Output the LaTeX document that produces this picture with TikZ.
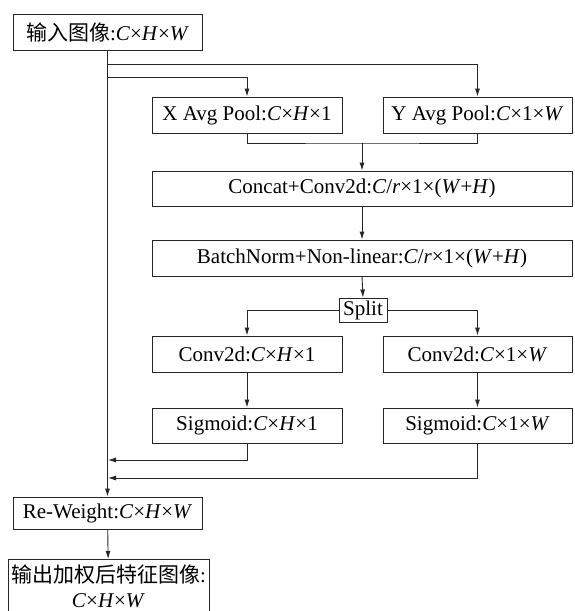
\documentclass[tikz,border=0pt]{standalone}
\usepackage{fontspec}
\setmainfont{Liberation Serif}
\newfontfamily\cjk{Noto Sans CJK SC}
\usetikzlibrary{arrows.meta}
\newcommand{\iv}[1]{\textit{#1}}
\begin{document}
\begin{tikzpicture}[x=1pt,y=-1pt,
  font=\fontsize{21}{26}\selectfont,
  box/.style={draw=black!85, line width=0.9pt, inner sep=0pt, align=center, text=black},
  link/.style={draw=black!85, line width=0.9pt},
  arr/.style={link, -{Latex[length=8pt,width=5pt]}}]
\clip (0,0) rectangle (574,611);
\fill[white] (0,0) rectangle (574,611);

% input and the two pooling branches
\node[box, minimum width=189pt, minimum height=36pt] (inp) at (107.5,32) {{\cjk 输入图像}:\iv{C}×\iv{H}×\iv{W}};
\node[box, minimum width=190pt, minimum height=36pt] (xpool) at (247,115) {X Avg Pool:\iv{C}×\iv{H}×1};
\node[box, minimum width=189pt, minimum height=36pt] (ypool) at (477.5,115) {Y Avg Pool:\iv{C}×1×\iv{W}};

% shared transform
\node[box, minimum width=420pt, minimum height=35pt] (concat) at (362,188.5) {Concat+Conv2d:\iv{C}/\iv{r}×1×(\iv{W}+\iv{H})};
\node[box, minimum width=420pt, minimum height=36pt] (bn) at (362,258) {BatchNorm+Non-linear:\iv{C}/\iv{r}×1×(\iv{W}+\iv{H})};
\node[box, minimum width=48pt, minimum height=24pt] (split) at (363,310) {Split};

% per-direction attention
\node[box, minimum width=190pt, minimum height=36pt] (convl) at (247,354) {Conv2d:\iv{C}×\iv{H}×1};
\node[box, minimum width=189pt, minimum height=36pt] (convr) at (477.5,354) {Conv2d:\iv{C}×1×\iv{W}};
\node[box, minimum width=190pt, minimum height=35pt] (sigl) at (247,425.5) {Sigmoid:\iv{C}×\iv{H}×1};
\node[box, minimum width=189pt, minimum height=35pt] (sigr) at (477.5,425.5) {Sigmoid:\iv{C}×1×\iv{W}};

% output side
\node[box, minimum width=189pt, minimum height=32pt] (rw) at (107.5,513) {Re-Weight:\iv{C}×\iv{H}×\iv{W}};
\node[box, minimum width=201pt, minimum height=54pt, anchor=north] (out) at (108.5,559) {{\cjk 输出加权后特征图像}:\\[-1pt]\iv{C}×\iv{H}×\iv{W}};

% junction points
\coordinate (j1) at (108,64);
\coordinate (j2) at (108,77);
\coordinate (m) at (362,143);
\coordinate (s1) at (108,460);
\coordinate (s2) at (108,478);

% connectors
\draw[arr] (inp.south) -- (rw.north);
\draw[arr] (j1) -| (ypool.north);
\draw[arr] (j2) -| (xpool.north);
\draw[link] (xpool.south) |- (m) -| (ypool.south);
\draw[arr] (m) -- (concat.north);
\draw[arr] (concat) -- (bn);
\draw[arr] (bn.south) -- (split.north);
\draw[arr] (split.west) -| (convl.north);
\draw[arr] (split.east) -| (convr.north);
\draw[arr] (convl) -- (sigl);
\draw[arr] (convr) -- (sigr);
\draw[arr] (sigl.south) |- (s1);
\draw[arr] (sigr.south) |- (s2);
\draw[arr] (rw) -- (out);
\end{tikzpicture}
\end{document}
